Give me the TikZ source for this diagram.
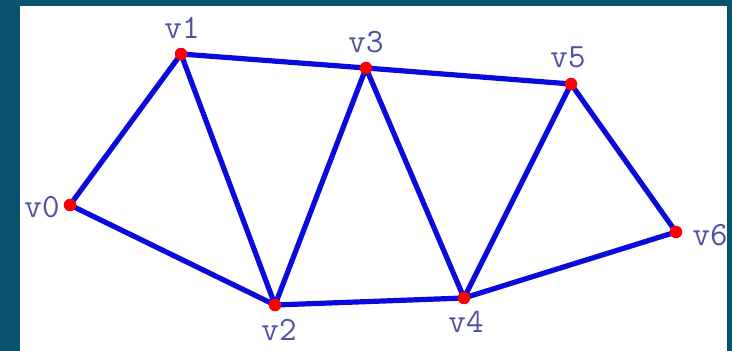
\documentclass[tikz,border=0pt]{standalone}
\usepackage{fontspec}
\definecolor{bgteal}{HTML}{07526E}
\definecolor{edgeblue}{HTML}{0A0ADC}
\definecolor{labblue}{HTML}{5050A4}
\tikzset{
  vert/.style={circle,fill=red,inner sep=0pt,minimum size=12.5pt},
  lab/.style={font=\ttfamily\fontsize{34}{34}\selectfont,text=labblue,inner sep=0pt},
  edge/.style={draw=edgeblue,line width=5.2pt,line cap=round}
}
\begin{document}
\begin{tikzpicture}[x=1pt,y=-1pt]
\useasboundingbox (0,0) rectangle (732,351);
\fill[bgteal] (0,0) rectangle (732,351);
\fill[white] (20,6) rectangle (727,351);
\coordinate (p0) at (70,205);
\coordinate (p1) at (181,54);
\coordinate (p2) at (275,305);
\coordinate (p3) at (366,68);
\coordinate (p4) at (464,298);
\coordinate (p5) at (571,84);
\coordinate (p6) at (676,232);
\draw[edge] (p0)--(p1) (p0)--(p2) (p1)--(p2) (p1)--(p3) (p2)--(p3) (p2)--(p4)
  (p3)--(p4) (p3)--(p5) (p4)--(p5) (p4)--(p6) (p5)--(p6);
\foreach \i in {0,...,6} \node[vert] (v\i) at (p\i) {};
\node[lab] (l0) at (42,207) {v0};
\node[lab] (l1) at (182,28) {v1};
\node[lab] (l2) at (279,330) {v2};
\node[lab] (l3) at (366,42) {v3};
\node[lab] (l4) at (466,322) {v4};
\node[lab] (l5) at (568,57) {v5};
\node[lab] (l6) at (710,235) {v6};
\end{tikzpicture}
\end{document}
